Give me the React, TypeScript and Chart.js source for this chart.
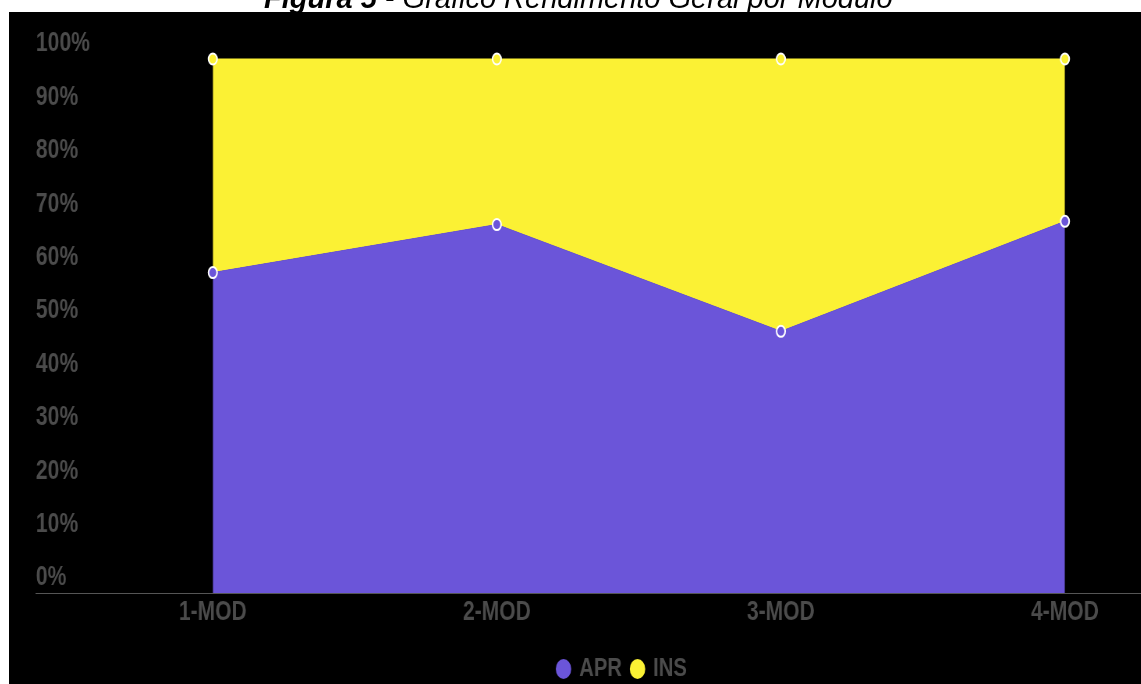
import React, { useEffect, useRef } from "react";
import { Chart, registerables } from "chart.js";

Chart.register(...registerables);

// Module labels along the x axis
const categories: string[] = ["1-MOD", "2-MOD", "3-MOD", "4-MOD"];
// Share of approved students per module (%)
const aprValues: number[] = [60, 69, 49, 69.6];
// Share of insufficient results per module (%), stacked on top of APR
const insValues: number[] = [40, 31, 51, 30.4];
// Y axis ticks
const yTicks: number[] = [0, 10, 20, 30, 40, 50, 60, 70, 80, 90, 100];

const APR_COLOR = "#6b55d9";
const INS_COLOR = "#fbf134";
const TEXT_COLOR = "#4b4b4b";
const FONT = "'Liberation Sans', Arial, Helvetica, sans-serif";

// drawing surface is rendered wide and squeezed horizontally
const SQUEEZE = 0.78;
const CANVAS_W = 1573;
const CANVAS_H = 680;

export default function App() {
  const canvasRef = useRef<HTMLCanvasElement | null>(null);

  useEffect(() => {
    const canvas = canvasRef.current;
    if (!canvas) return;
    const baseLabels = Chart.defaults.plugins.legend.labels.generateLabels;
    const chart = new Chart(canvas, {
      type: "line",
      data: {
        datasets: [
          {
            label: "APR",
            data: aprValues.map((y, i) => ({ x: i, y })),
            backgroundColor: APR_COLOR,
            borderColor: APR_COLOR,
            borderWidth: 1,
            fill: "origin",
            tension: 0,
            clip: false,
            pointRadius: 5.5,
            pointBorderWidth: 2,
            pointBackgroundColor: APR_COLOR,
            pointBorderColor: "#ffffff",
            pointStyle: "circle",
          },
          {
            label: "INS",
            data: insValues.map((y, i) => ({ x: i, y })),
            backgroundColor: INS_COLOR,
            borderColor: INS_COLOR,
            borderWidth: 1,
            fill: "-1",
            tension: 0,
            clip: false,
            pointRadius: 5.5,
            pointBorderWidth: 2,
            pointBackgroundColor: INS_COLOR,
            pointBorderColor: "#ffffff",
            pointStyle: "circle",
          },
        ],
      },
      options: {
        responsive: false,
        devicePixelRatio: 1,
        animation: false,
        layout: { padding: { top: 47, left: 0, right: 0, bottom: 0 } },
        scales: {
          x: {
            type: "linear",
            min: -0.6224,
            max: 3.5815,
            afterBuildTicks: (scale: any) => {
              scale.ticks = categories.map((_, i) => ({ value: i }));
            },
            afterFit: (scale: any) => {
              scale.height = 50;
            },
            grid: { display: false, drawTicks: false },
            border: { display: true, color: "#555555", width: 1 },
            ticks: {
              autoSkip: false,
              maxRotation: 0,
              padding: 3,
              color: TEXT_COLOR,
              font: { family: FONT, size: 27, weight: "bold" },
              callback: (v: any) => categories[Number(v)] ?? "",
            },
          },
          y: {
            stacked: true,
            min: 0,
            max: 100,
            afterBuildTicks: (scale: any) => {
              scale.ticks = yTicks.map((value) => ({ value }));
            },
            afterFit: (scale: any) => {
              scale.width = 34.6;
            },
            grid: { display: false, drawTicks: false },
            border: { display: false },
            ticks: {
              mirror: true,
              crossAlign: "near",
              padding: 0,
              labelOffset: -15,
              color: TEXT_COLOR,
              font: { family: FONT, size: 27, weight: "bold" },
              callback: (v: any) => `${v}%`,
            },
          },
        },
        plugins: {
          tooltip: { enabled: false },
          legend: {
            display: true,
            position: "bottom",
            labels: {
              usePointStyle: true,
              pointStyle: "circle",
              boxWidth: 14,
              boxHeight: 14,
              padding: 13,
              color: TEXT_COLOR,
              font: { family: FONT, size: 26, weight: "bold" },
              generateLabels: (c: any) =>
                baseLabels(c).map((item: any) => ({
                  ...item,
                  strokeStyle: item.fillStyle,
                  lineWidth: 0,
                })),
            },
          },
        },
      },
    } as any);
    return () => chart.destroy();
  }, []);

  return (
    <div>
      <div
        style={{
          position: "fixed",
          left: 264,
          top: -16.5,
          lineHeight: "29px",
          fontSize: 29,
          fontFamily: FONT,
          fontStyle: "italic",
          color: "#000",
          whiteSpace: "nowrap",
        }}
      >
        <b>Figura 5</b> - Gráfico Rendimento Geral por Módulo
      </div>
      <div
        style={{
          position: "fixed",
          left: 9,
          top: 12,
          width: 1132,
          height: 672,
          overflow: "hidden",
          background: "#000",
        }}
      >
        <canvas
          ref={canvasRef}
          width={CANVAS_W}
          height={CANVAS_H}
          style={{
            display: "block",
            transform: `scaleX(${SQUEEZE})`,
            transformOrigin: "0 0",
          }}
        />
      </div>
    </div>
  );
}
